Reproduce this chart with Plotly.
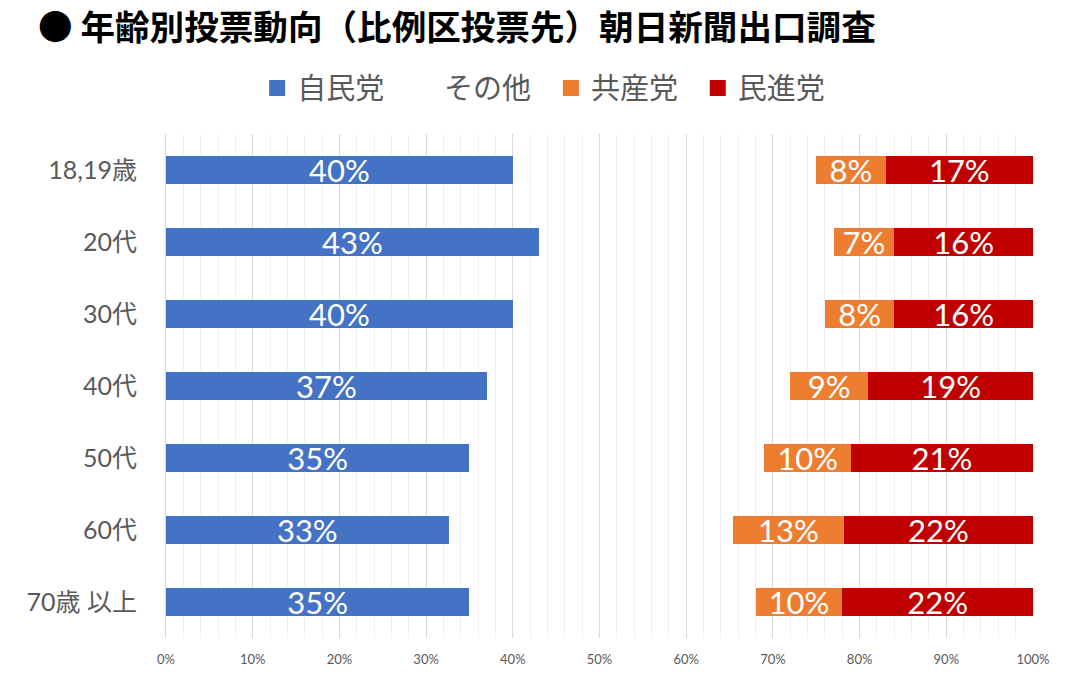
import plotly.graph_objects as go

categories = ["18,19歳", "20代", "30代", "40代", "50代", "60代", "70歳 以上"]
ldp = [40, 43, 40, 37, 35, 32.6, 35]
other = [35, 34, 36, 35, 34, 32.8, 33]
jcp = [8, 7, 8, 9, 10, 12.8, 10]
dp = [17, 16, 16, 19, 21, 21.8, 22]

series = [
    ("自民党", ldp, "#4472C4", True),
    ("その他", other, "rgba(0,0,0,0)", False),
    ("共産党", jcp, "#ED7D31", True),
    ("民進党", dp, "#C00000", True),
]

FONT = "Lato, 'Noto Sans CJK JP', sans-serif"
PAD = "\u00a0\u00a0"

fig = go.Figure()
for name, vals, color, show_text in series:
    fig.add_trace(go.Bar(
        y=categories, x=vals, name=name, orientation="h",
        marker=dict(color=color, line=dict(width=0)),
        width=0.4, showlegend=False,
        text=[f"{v:.0f}%" for v in vals] if show_text else None,
        textposition="inside" if show_text else "none",
        insidetextanchor="middle",
        constraintext="none",
        textfont=dict(color="white", size=31, family=FONT),
    ))
# legend entries with larger square symbols
for name, vals, color, show_text in series:
    fig.add_trace(go.Scatter(
        x=[None], y=[None], mode="markers", name=name + PAD,
        marker=dict(symbol="square", size=18, color=color),
        showlegend=True,
    ))

fig.update_layout(
    barmode="stack",
    width=1063, height=667,
    paper_bgcolor="white", plot_bgcolor="white",
    margin=dict(l=158, r=38, t=126, b=37),
    font=dict(family=FONT, color="#595959"),
    title=dict(
        text="<b>● 年齢別投票動向（比例区投票先）朝日新聞出口調査</b>",
        x=30 / 1063, xref="container", xanchor="left",
        y=0.97, yref="container", yanchor="middle",
        font=dict(size=34.6, color="black", family="'Noto Sans CJK JP', sans-serif"),
    ),
    legend=dict(
        orientation="h", xref="container", x=0.511, xanchor="center",
        yref="container", y=0.88, yanchor="middle",
        font=dict(size=29, color="#595959", family=FONT),
        traceorder="normal", itemwidth=30,
    ),
    showlegend=True,
)
fig.update_xaxes(
    range=[0, 100], dtick=10, ticksuffix="%",
    showgrid=True, gridcolor="#D9D9D9", gridwidth=1,
    minor=dict(dtick=2, showgrid=True, gridcolor="#F0F0F0", gridwidth=1),
    zeroline=False, showline=False,
    tickfont=dict(size=13, color="#595959"),
    ticklabelstandoff=12, automargin=False,
    fixedrange=True,
)
fig.update_yaxes(
    autorange="reversed", automargin=False,
    showline=True, linecolor="#D9D9D9", linewidth=1,
    tickfont=dict(size=25, color="#595959"),
    ticks="", ticklabelstandoff=23,
)

fig.write_html("out.html")
